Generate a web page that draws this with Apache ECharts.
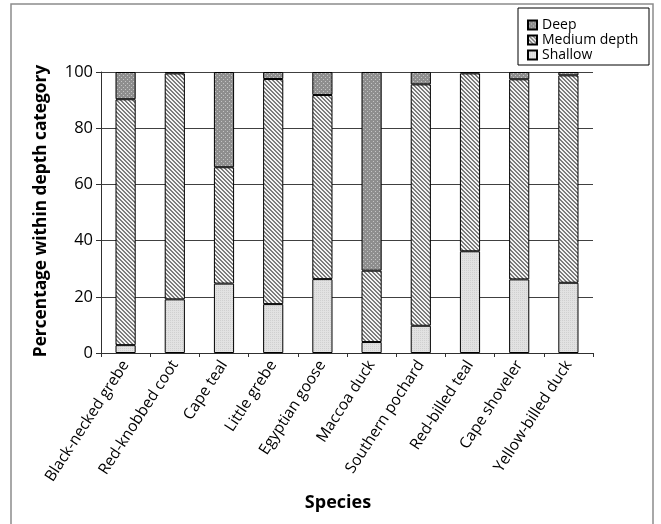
<!DOCTYPE html>
<html>
<head>
<meta charset="utf-8">
<script src="https://cdn.jsdelivr.net/npm/echarts@6/dist/echarts.min.js"></script>
<style>
html,body{margin:0;padding:0;background:#fff;}
#main{width:661px;height:524px;}
</style>
</head>
<body>
<div id="main"></div>
<script>
const categories = ['Black-necked grebe','Red-knobbed coot','Cape teal','Little grebe','Egyptian goose','Maccoa duck','Southern pochard','Red-billed teal','Cape shoveler','Yellow-billed duck'];
const shallow = [2.8, 19.1, 24.7, 17.4, 26.3, 3.9, 9.7, 36.2, 26.2, 25.0];
const medium  = [87.5, 80.4, 41.4, 80.1, 65.5, 25.4, 85.9, 63.3, 71.2, 73.8];
const deep    = [9.7, 0.5, 33.9, 2.5, 8.2, 70.7, 4.4, 0.5, 2.6, 1.2];
const yTicks = [0, 20, 40, 60, 80, 100];

function makePattern(type){
  const c = document.createElement('canvas');
  const ctx = c.getContext('2d');
  if(type === 'deep'){
    c.width = 4; c.height = 4;
    ctx.fillStyle = '#8e8e8e'; ctx.fillRect(0,0,4,4);
    ctx.fillStyle = '#c4c4c4'; ctx.fillRect(1,1,1,1); ctx.fillRect(3,3,1,1);
  } else if(type === 'medium'){
    c.width = 4; c.height = 4;
    ctx.fillStyle = '#f4f4f4'; ctx.fillRect(0,0,4,4);
    ctx.fillStyle = '#7c7c7c';
    for(let i=0;i<4;i++){ ctx.fillRect(i,i,1,1); ctx.fillRect((i+1)%4,i,1,1); }
  } else {
    c.width = 2; c.height = 2;
    ctx.fillStyle = '#e2e2e2'; ctx.fillRect(0,0,2,2);
    ctx.fillStyle = '#d0d0d0'; ctx.fillRect(0,0,1,1);
  }
  return {image: c, repeat: 'repeat'};
}

const chart = echarts.init(document.getElementById('main'), null, {renderer:'canvas'});
const FONT = '"Open Sans", sans-serif';
function barSeries(name, data, pat){
  return {
    name: name, type: 'bar', stack: 'total', data: data,
    barWidth: '41%',
    itemStyle: {color: makePattern(pat), borderColor: '#000', borderWidth: 1},
    emphasis: {disabled: true}
  };
}
chart.setOption({
  animation: false,
  backgroundColor: '#fff',
  grid: {left: 101, right: 68, top: 72, bottom: 171, containLabel: false},
  legend: {
    data: ['Deep','Medium depth','Shallow'],
    orient: 'vertical', left: 522, top: 13,
    itemWidth: 9, itemHeight: 9, itemGap: 1,
    icon: 'rect',
    textStyle: {fontFamily: FONT, fontSize: 14, color: '#000', lineHeight: 14},
    selectedMode: false
  },
  xAxis: {
    type: 'category', data: categories,
    axisLine: {lineStyle: {color: '#303030', width: 1}},
    axisTick: {show: true, length: 4, lineStyle: {color: '#303030'}},
    axisLabel: {rotate: 57, margin: 9, fontFamily: FONT, fontSize: 15.5, color: '#000', interval: 0}
  },
  yAxis: {
    type: 'value', min: 0, max: 100, interval: 20,
    axisLine: {show: true, lineStyle: {color: '#303030', width: 1}},
    axisTick: {show: true, length: 5, lineStyle: {color: '#303030'}},
    splitLine: {show: true, lineStyle: {color: '#404040', width: 1}},
    axisLabel: {margin: 8, fontFamily: FONT, fontSize: 16.5, color: '#000',
      formatter: function(v){ return yTicks.indexOf(v) >= 0 ? String(v) : ''; }}
  },
  series: [
    barSeries('Shallow', shallow, 'shallow'),
    barSeries('Medium depth', medium, 'medium'),
    barSeries('Deep', deep, 'deep')
  ],
  graphic: [
    {type: 'rect', shape: {x: 11, y: 4, width: 642, height: 540}, style: {fill: 'none', stroke: '#8c8c8c', lineWidth: 1.5}, silent: true, z: -1},
    {type: 'rect', shape: {x: 518, y: 8, width: 131, height: 57}, style: {fill: '#fff', stroke: '#000', lineWidth: 1}, silent: true, z: -1},
    {type: 'text', x: 41, y: 211, rotation: Math.PI/2,
     style: {text: 'Percentage within depth category', font: 'bold 17.3px "Open Sans", sans-serif', fill: '#000', textAlign: 'center', textVerticalAlign: 'middle'}},
    {type: 'text', x: 338, y: 503,
     style: {text: 'Species', font: 'bold 18px "Open Sans", sans-serif', fill: '#000', textAlign: 'center', textVerticalAlign: 'middle'}}
  ]
});
</script>
</body>
</html>
